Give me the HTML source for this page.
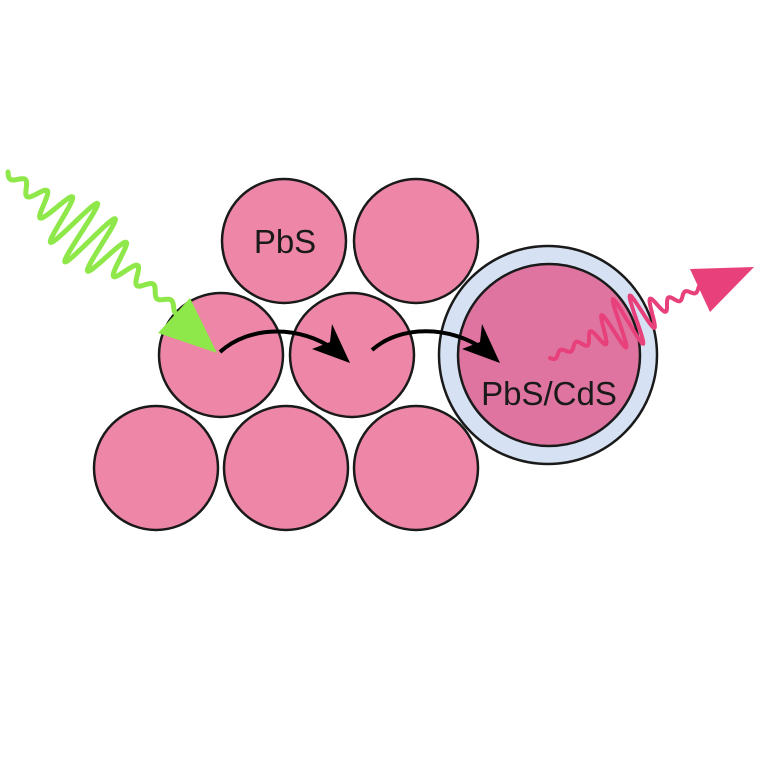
<!DOCTYPE html>
<html><head><meta charset="utf-8"><style>
html,body{margin:0;padding:0;background:#fff;width:764px;height:764px;overflow:hidden}
svg{display:block}
text{font-family:"Liberation Sans","DejaVu Sans",sans-serif}
</style></head><body>
<svg id="s" width="764" height="764" viewBox="0 0 764 764">
<g fill="#ee86a8" stroke="#1a1a1a" stroke-width="2.5">
<circle cx="284" cy="241" r="62"/>
<circle cx="416" cy="241" r="62"/>
<circle cx="221" cy="355" r="62"/>
<circle cx="352" cy="355" r="62"/>
<circle cx="156" cy="468" r="62"/>
<circle cx="286" cy="468" r="62"/>
<circle cx="416" cy="468" r="62"/>
</g>
<circle cx="548" cy="355" r="109" fill="#d6e2f4" stroke="#1a1a1a" stroke-width="2.5"/>
<circle cx="549" cy="355" r="91" fill="#de749f" stroke="#1a1a1a" stroke-width="2.5"/>
<text x="285" y="253" font-size="33" text-anchor="middle" fill="#1a1a1a">PbS</text>
<text x="549" y="405" font-size="33" text-anchor="middle" fill="#1a1a1a">PbS/CdS</text>
<g fill="none" stroke="#000" stroke-width="4">
<path d="M220,352 C250,325 300,325 335,350"/>
<path d="M372,350 C400,325 450,325 485,350"/>
</g>
<polygon points="350,363 312,349 330,342 332,324" fill="#000"/>
<polygon points="500,363 462,349 480,342 482,324" fill="#000"/>
<path id="gw" fill="none" stroke="#8fe84a" stroke-width="5" stroke-linecap="round"/>
<polygon points="217,353 158,333 190,298" fill="#8fe84a"/>
<path id="pw" fill="none" stroke="#e8407a" stroke-width="4" stroke-linecap="round"/>
<polygon points="754,267 690,269 710,312" fill="#e8407a"/>
</svg>
<script>
function wave(x0,y0,x1,y1,amp,cycles,center,width){
  var dx=x1-x0,dy=y1-y0,L=Math.hypot(dx,dy),ux=dx/L,uy=dy/L,nx=-uy,ny=ux,d="";
  for(var i=0;i<=600;i++){var t=i/600;
    var env=0.12+Math.exp(-Math.pow((t-center)/width,2));
    var o=amp*env*Math.sin(t*cycles*2*Math.PI);
    var x=x0+dx*t+nx*o,y=y0+dy*t+ny*o;
    d+=(i?"L":"M")+x.toFixed(1)+","+y.toFixed(1);}
  return d;}
document.getElementById('gw').setAttribute('d',wave(8,172,192,322,30,10,0.42,0.2));
document.getElementById('pw').setAttribute('d',wave(550,358,706,285,24,10,0.5,0.17));
</script>
</body></html>
